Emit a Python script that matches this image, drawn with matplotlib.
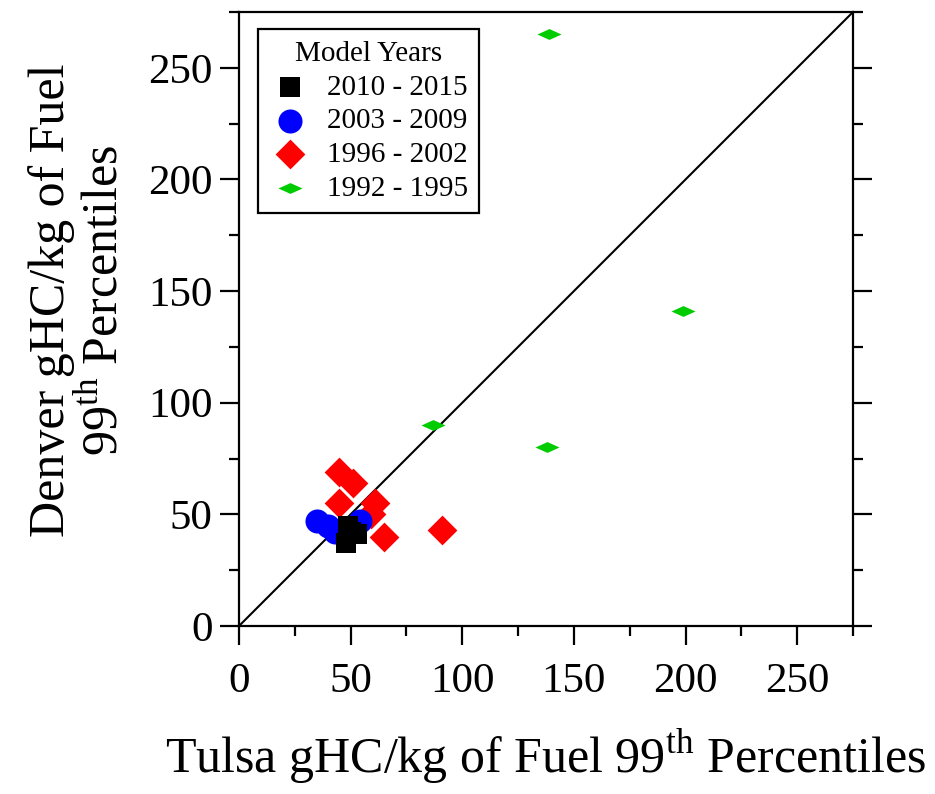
import numpy as np
import matplotlib.pyplot as plt
from matplotlib.path import Path
from matplotlib.ticker import MultipleLocator

plt.rcParams['font.family'] = ['Liberation Serif', 'DejaVu Serif']
plt.rcParams['mathtext.fontset'] = 'custom'
plt.rcParams['mathtext.rm'] = 'Liberation Serif'

# model year groups: Tulsa (x) vs Denver (y) 99th percentile gHC/kg
x_2010 = [48, 50, 53, 49]
y_2010 = [37, 42, 41, 45]

x_2003 = [35, 40, 43, 47, 50, 54]
y_2003 = [47, 45, 42, 41, 44, 47]

x_1996 = [45, 51, 45, 61, 59, 65, 91]
y_1996 = [69, 64, 55, 55, 50, 40, 43]

x_1992 = [139, 199, 87, 138]
y_1992 = [265, 141, 90, 80]

# flat diamond marker for the oldest group
flat_diamond = Path([(-1, 0), (0, 0.45), (1, 0), (0, -0.45), (-1, 0)],
                    [Path.MOVETO, Path.LINETO, Path.LINETO, Path.LINETO, Path.CLOSEPOLY])

fig = plt.figure(figsize=(9.35, 7.94), dpi=100)
ax = fig.add_axes([0.2556, 0.2116, 0.6567, 0.7733])

ax.plot([0, 275], [0, 275], color='black', lw=1.5, zorder=1)

ax.scatter(x_1992, y_1992, marker=flat_diamond, s=300, color='#00cc00', lw=0, label='1992 - 1995', zorder=2)
ax.scatter(x_1996, y_1996, marker='D', s=230, color='#ff0000', lw=0, label='1996 - 2002', zorder=3)
ax.scatter(x_2003, y_2003, marker='o', s=300, color='#0000ff', lw=0, label='2003 - 2009', zorder=4)
ax.scatter(x_2010, y_2010, marker='s', s=200, color='black', lw=0, label='2010 - 2015', zorder=5)

ax.set_xlim(0, 275)
ax.set_ylim(0, 275)
ax.xaxis.set_major_locator(MultipleLocator(50))
ax.xaxis.set_minor_locator(MultipleLocator(25))
ax.yaxis.set_major_locator(MultipleLocator(50))
ax.yaxis.set_minor_locator(MultipleLocator(25))

for s in ax.spines.values():
    s.set_linewidth(1.6)
ax.tick_params(which='both', direction='out', width=1.6, left=True, right=True, bottom=True, top=False)
ax.tick_params(which='major', length=14, labelsize=31)
ax.tick_params(which='minor', length=7)
ax.tick_params(axis='x', pad=12)
ax.tick_params(axis='y', pad=5)

ax.set_xlabel('Tulsa gHC/kg of Fuel 99$^{\\mathrm{th}}$ Percentiles', fontsize=36, labelpad=22)
ax.set_ylabel('Denver gHC/kg of Fuel\n99$^{\\mathrm{th}}$ Percentiles', fontsize=36, labelpad=12,
              multialignment='center', linespacing=1.15)
ax.xaxis.set_label_coords(0.5, -0.165)
ax.yaxis.set_label_coords(-0.18, 0.53)

handles, labels = ax.get_legend_handles_labels()
leg = ax.legend(handles[::-1], labels[::-1], title='Model Years', loc='upper left',
                bbox_to_anchor=(0.031, 0.972), borderaxespad=0, fontsize=21, title_fontsize=21,
                frameon=True, fancybox=False, edgecolor='black', framealpha=1,
                handletextpad=0.55, labelspacing=0.25, borderpad=0.4, markerscale=1.0,
                handlelength=1.4)
leg.get_frame().set_linewidth(1.6)

fig.savefig('out.png', dpi=100)
